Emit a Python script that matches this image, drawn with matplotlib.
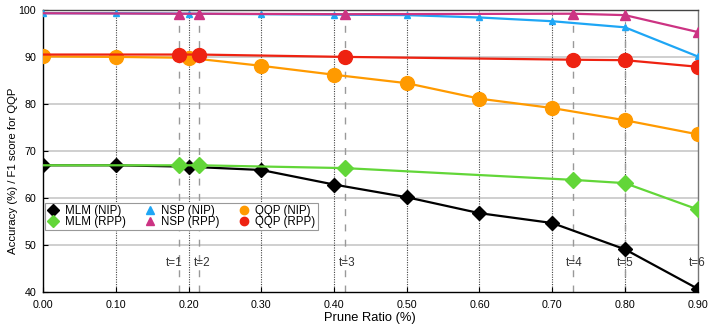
import matplotlib
matplotlib.use("Agg")
import matplotlib.pyplot as plt
from matplotlib.lines import Line2D

plt.rcParams['font.family'] = ['Liberation Sans Narrow', 'Liberation Sans', 'DejaVu Sans']

x_nip = [0.0, 0.1, 0.2, 0.3, 0.4, 0.5, 0.6, 0.7, 0.8, 0.9]
x_rpp = [0.0, 0.187, 0.215, 0.415, 0.728, 0.8, 0.9]
t_labels = ["t=1", "t=2", "t=3", "t=4", "t=5", "t=6"]

mlm_nip = [67.0, 67.0, 66.7, 66.0, 62.9, 60.2, 56.8, 54.7, 49.1, 40.7]
mlm_rpp = [67.0, 67.0, 67.0, 66.4, 63.9, 63.2, 57.6]
nsp_nip = [99.4, 99.4, 99.3, 99.2, 99.1, 99.0, 98.5, 97.7, 96.4, 90.2]
nsp_rpp = [99.4, 99.3, 99.3, 99.2, 99.3, 99.0, 95.4]
qqp_nip = [90.2, 90.1, 89.9, 88.2, 86.3, 84.5, 81.2, 79.2, 76.6, 73.6]
qqp_rpp = [90.6, 90.6, 90.6, 90.1, 89.5, 89.4, 88.0]

fig = plt.figure(figsize=(7.09, 3.26), dpi=100)
ax = fig.add_axes([0.0607, 0.1043, 0.9233, 0.8637])

ax.set_xlim(0, 0.9)
ax.set_ylim(40, 100)

# horizontal grid
for y in [50, 60, 70, 80, 90]:
    ax.axhline(y, color='#cccccc', lw=1.3, zorder=0)
# vertical dotted lines
for xv in x_nip[1:-1]:
    ax.axvline(xv, color='#444444', lw=0.8, ls=(0, (1, 1.2)), zorder=0.5)
# dashed t lines
for xv in x_rpp[1:-1]:
    ax.axvline(xv, color='#999999', lw=1.0, ls=(0, (5, 6)), zorder=0.6)

ax.plot(x_nip, mlm_nip, color='black', lw=1.6, marker='D', ms=7.5, label='MLM (NIP)', zorder=3)
ax.plot(x_nip, nsp_nip, color='#1ea6f5', lw=1.6, marker='^', ms=5, label='NSP (NIP)', zorder=3)
ax.plot(x_nip, qqp_nip, color='#ff9a00', lw=1.6, marker='o', ms=10, label='QQP (NIP)', zorder=3)
ax.plot(x_rpp, mlm_rpp, color='#62d638', lw=1.6, marker='D', ms=8.5, markevery=slice(1, None), label='MLM (RPP)', zorder=4)
ax.plot(x_rpp, nsp_rpp, color='#cc3383', lw=1.6, marker='^', ms=6.5, markevery=slice(1, None), label='NSP (RPP)', zorder=4)
ax.plot(x_rpp, qqp_rpp, color='#ee2211', lw=1.6, marker='o', ms=10, markevery=slice(1, None), label='QQP (RPP)', zorder=4)

# t labels
t_offsets = [-0.0065, 0.0035, 0.003, 0.002, 0.0, 0.0]
for xv, lab, off in zip(x_rpp[1:], t_labels, t_offsets):
    ax.text(xv + off, 46.1, lab, ha='center', va='center', fontsize=8.5, color='#333333', zorder=5)

ax.set_xticks(x_nip)
ax.set_xticklabels([f"{v:.2f}" for v in x_nip], fontsize=7.7)
ax.set_yticks([40, 50, 60, 70, 80, 90, 100])
ax.set_yticklabels([str(v) for v in [40, 50, 60, 70, 80, 90, 100]], fontsize=7.7)
ax.tick_params(direction='in', length=3.5, width=0.8)
ax.tick_params(axis='x', pad=6)
ax.tick_params(axis='y', pad=5)

ax.spines['left'].set_color('black')
ax.spines['bottom'].set_color('black')
ax.spines['top'].set_color('#444444')
ax.spines['right'].set_color('#777777')
for s in ax.spines.values():
    s.set_linewidth(1.0)

ax.set_xlabel('Prune Ratio (%)', fontsize=9.3, labelpad=1)
ax.set_ylabel('Accuracy (%) / F1 score for QQP', fontsize=8.2)
ax.yaxis.set_label_coords(-0.038, 0.43)

handles, labels = ax.get_legend_handles_labels()
order = [0, 3, 1, 4, 2, 5]
hs = []
for i in order:
    h = handles[i]
    hs.append(Line2D([], [], ls='none', marker=h.get_marker(), color=h.get_color(), ms=6))
leg = ax.legend(hs, [labels[i] for i in order], ncol=3, loc='upper left',
                bbox_to_anchor=(0.003, 0.316), fontsize=8.3, frameon=True, fancybox=False,
                edgecolor='#999999', handlelength=1.0, handletextpad=0.5, columnspacing=1.6,
                labelspacing=-0.1, borderpad=0.2, borderaxespad=0, framealpha=1)
leg.get_frame().set_linewidth(0.8)
leg.set_zorder(6)

fig.savefig('out.png', dpi=100)
